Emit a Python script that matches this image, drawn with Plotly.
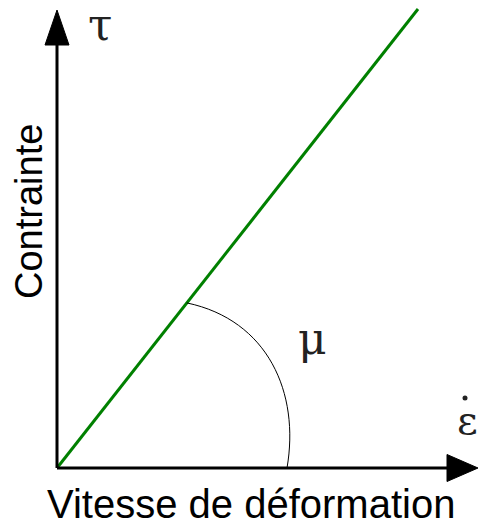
import numpy as np
import plotly.graph_objects as go

# Newtonian fluid: stress grows linearly with strain rate, slope = viscosity mu
strain_rate = [0, 361]
stress = [0, 459]

x_label = "Vitesse de déformation"
y_label = "Contrainte"
stress_symbol = "τ"
rate_symbol = "ε"
slope_symbol = "μ"

fig = go.Figure()

# linear flow law
fig.add_trace(go.Scatter(
    x=strain_rate, y=stress, mode="lines",
    line=dict(color="#008000", width=3), hoverinfo="skip", showlegend=False,
))

# angle marker between the x axis and the flow line
ux, uy = np.array([strain_rate[1], stress[1]]) / np.hypot(strain_rate[1], stress[1])
p0 = (210 * ux, 210 * uy)
p3 = (230, 0)
arc = f"M {p0[0]:.1f},{p0[1]:.1f} C 211,148 243,75 {p3[0]},{p3[1]}"
fig.add_shape(type="path", path=arc, xref="x", yref="y",
              line=dict(color="black", width=1))

# axes with filled arrowheads
fig.add_shape(type="line", x0=0, y0=0, x1=0, y1=426, xref="x", yref="y",
              line=dict(color="black", width=3))
fig.add_shape(type="line", x0=0, y0=0, x1=392, y1=0, xref="x", yref="y",
              line=dict(color="black", width=3))
fig.add_shape(type="path", path="M -12,423 L 12,423 L 0,458 Z",
              xref="x", yref="y", fillcolor="black", line=dict(color="black", width=1))
fig.add_shape(type="path", path="M 390,-13.5 L 390,13.5 L 421,0 Z",
              xref="x", yref="y", fillcolor="black", line=dict(color="black", width=1))

sans = "Liberation Sans, Arial, sans-serif"
serif = "DejaVu Serif, Liberation Serif, serif"
greek = "#222222"

fig.add_annotation(x=0.524, y=0.0, xref="paper", yref="paper", text=x_label,
                   showarrow=False, yanchor="bottom", yshift=-7, borderpad=0,
                   font=dict(family=sans, size=40, color="black"))
fig.add_annotation(x=-28, y=256, xref="x", yref="y", text=y_label, showarrow=False,
                   textangle=-90, font=dict(family=sans, size=38, color="black"))
fig.add_annotation(x=43, y=444, xref="x", yref="y", text=stress_symbol, showarrow=False,
                   font=dict(family=serif, size=44, color=greek))
fig.add_annotation(x=255, y=130, xref="x", yref="y", text=slope_symbol, showarrow=False,
                   font=dict(family=serif, size=44, color=greek))
fig.add_annotation(x=410, y=48, xref="x", yref="y", text=rate_symbol, showarrow=False,
                   font=dict(family=serif, size=40, color=greek))
# time-derivative dot over epsilon
fig.add_trace(go.Scatter(
    x=[408], y=[70], mode="markers", hoverinfo="skip", showlegend=False,
    marker=dict(color=greek, size=5, line=dict(width=0)),
))

fig.update_xaxes(range=[-57, 422], visible=False, fixedrange=True)
fig.update_yaxes(range=[-52, 468], visible=False, fixedrange=True)
fig.update_layout(
    width=479, height=520, margin=dict(l=0, r=0, t=0, b=0),
    paper_bgcolor="white", plot_bgcolor="white", showlegend=False,
)

fig.write_html("out.html")
